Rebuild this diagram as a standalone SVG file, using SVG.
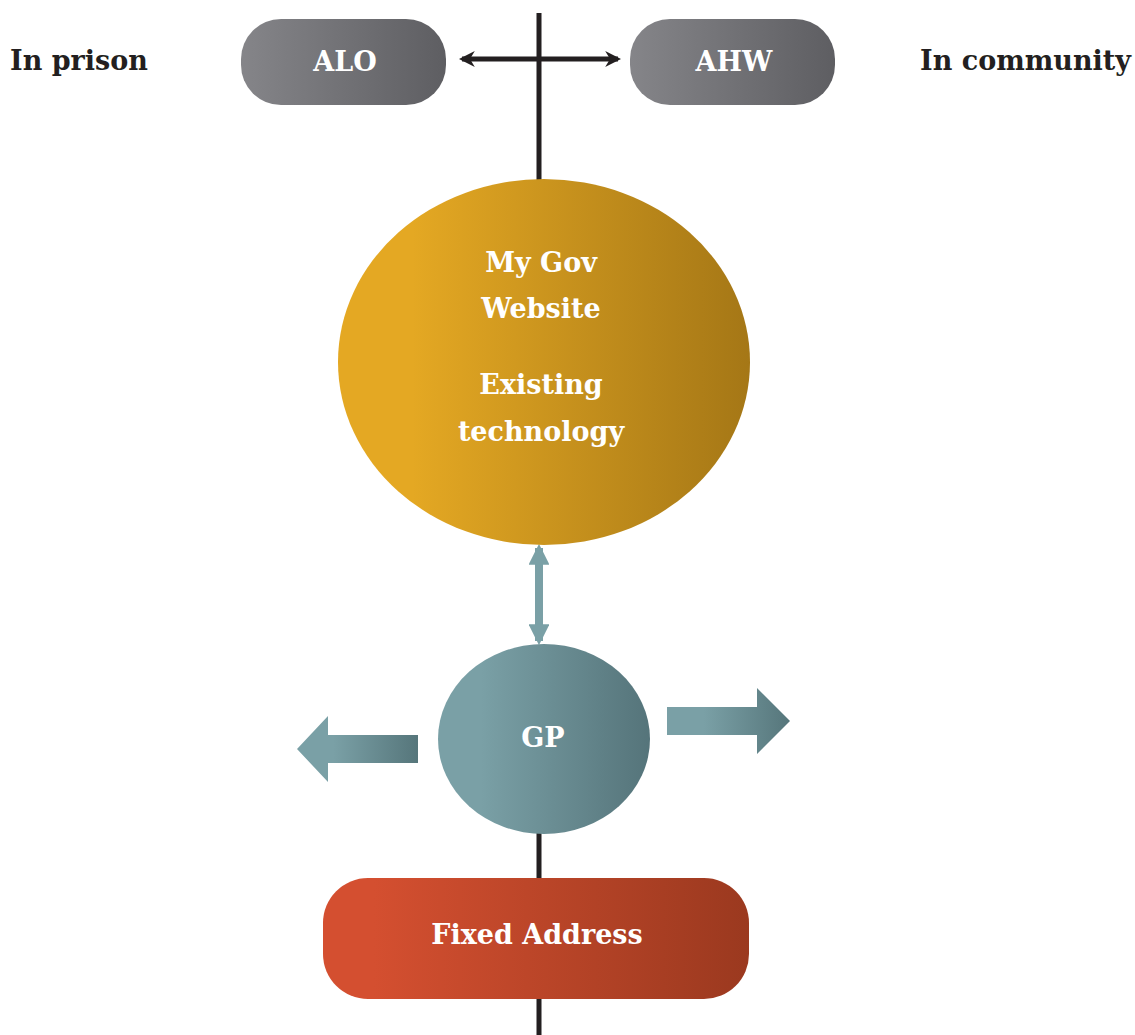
<svg xmlns="http://www.w3.org/2000/svg" width="1135" height="1035" viewBox="0 0 1135 1035">
<defs>
<linearGradient id="gGray" x1="0" y1="0" x2="1" y2="0"><stop offset="0" stop-color="#858589"/><stop offset="1" stop-color="#5e5e62"/></linearGradient>
<linearGradient id="gGold" x1="0" y1="0" x2="1" y2="0"><stop offset="0.18" stop-color="#e4a823"/><stop offset="1" stop-color="#a57716"/></linearGradient>
<linearGradient id="gTeal" x1="0" y1="0" x2="1" y2="0"><stop offset="0.2" stop-color="#7aa0a6"/><stop offset="1" stop-color="#55747a"/></linearGradient>
<linearGradient id="gTealL" x1="0" y1="0" x2="1" y2="0"><stop offset="0.3" stop-color="#7aa0a6"/><stop offset="1" stop-color="#56767b"/></linearGradient>
<linearGradient id="gRed" x1="0" y1="0" x2="1" y2="0"><stop offset="0.12" stop-color="#d44f30"/><stop offset="1" stop-color="#9b391f"/></linearGradient>
<marker id="blk" viewBox="0 0 10 10" refX="8" refY="5" markerWidth="3.2" markerHeight="3.2" orient="auto-start-reverse"><path d="M0,0 L10,5 L0,10 L3,5 Z" fill="#231f20"/></marker>
<marker id="tl" viewBox="0 0 10 10" refX="8" refY="5" markerWidth="2.6" markerHeight="2.6" orient="auto-start-reverse"><path d="M0,0 L10,5 L0,10 Z" fill="#7aa0a6"/></marker>
</defs>
<style>
.lbl{font-family:"DejaVu Serif","Liberation Serif",serif;font-weight:bold;fill:#ffffff;text-anchor:middle;font-size:27px}
.side{font-family:"DejaVu Serif","Liberation Serif",serif;font-weight:bold;fill:#231f20;font-size:27px}
.axis{stroke:#231f20;stroke-width:5;fill:none}
</style>
<g id="connectors">
<line class="axis" x1="539" y1="13" x2="539" y2="182"/>
<line class="axis" x1="539" y1="830" x2="539" y2="1035"/>
<line x1="462" y1="59" x2="618" y2="59" stroke="#231f20" stroke-width="5" marker-start="url(#blk)" marker-end="url(#blk)"/>
<line x1="539" y1="548" x2="539" y2="641" stroke="#7aa0a6" stroke-width="8" marker-start="url(#tl)" marker-end="url(#tl)"/>
<path d="M418,735 L328,735 L328,716 L297,749 L328,782 L328,763 L418,763 Z" fill="url(#gTealL)"/>
<path d="M667,707 L757,707 L757,688 L790,721 L757,754 L757,735 L667,735 Z" fill="url(#gTealL)"/>
</g>
<g id="label-prison"><text class="side" x="10" y="70">In prison</text></g>
<g id="label-community"><text class="side" x="1131" y="70" text-anchor="end">In community</text></g>
<g id="node-alo"><rect x="241" y="19" width="205" height="86" rx="40" fill="url(#gGray)"/><text class="lbl" x="345" y="71">ALO</text></g>
<g id="node-ahw"><rect x="630" y="19" width="205" height="86" rx="40" fill="url(#gGray)"/><text class="lbl" x="734" y="71">AHW</text></g>
<g id="node-mygov"><ellipse cx="544" cy="362" rx="206" ry="183" fill="url(#gGold)"/>
<text class="lbl" x="541" y="272">My Gov</text><text class="lbl" x="541" y="318">Website</text>
<text class="lbl" x="541" y="394">Existing</text><text class="lbl" x="541" y="441">technology</text></g>
<g id="node-gp"><ellipse cx="544" cy="739" rx="106" ry="95" fill="url(#gTeal)"/><text class="lbl" x="543" y="747">GP</text></g>
<g id="node-fixed"><rect x="323" y="878" width="426" height="121" rx="45" fill="url(#gRed)"/><text class="lbl" x="537" y="944">Fixed Address</text></g>
</svg>
